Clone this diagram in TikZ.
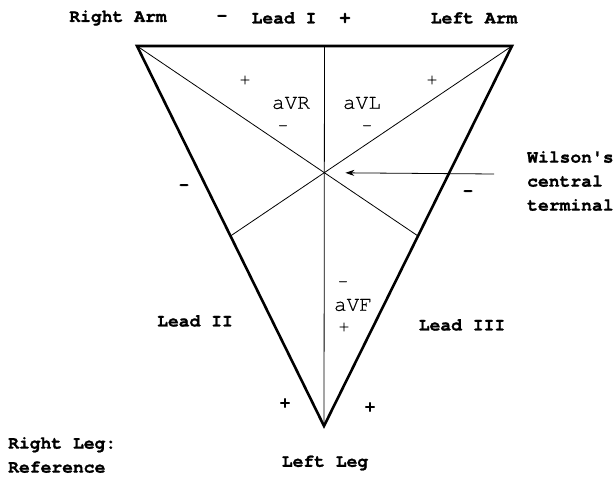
\documentclass[tikz,border=0pt]{standalone}
\usepackage{fontspec}
\newfontfamily\cur[Extension=.otf,UprightFont=*-regular,BoldFont=*-bold,BoldFeatures={FakeBold=1.2}]{texgyrecursor}
\newfontfamily\curthin[Extension=.otf,UprightFont=*-regular,FakeBold=0.6]{texgyrecursor}
\usetikzlibrary{arrows.meta,calc}
\tikzset{
  side/.style={line width=2.6pt, line join=miter, line cap=round},
  inner/.style={line width=0.8pt},
  lbl/.style={font=\cur\bfseries\fontsize{18}{24}\selectfont, inner sep=0pt, text=black},
  sm/.style={font=\curthin\fontsize{21}{22}\selectfont, inner sep=0pt},
  sgn/.style={font=\curthin\fontsize{17}{18}\selectfont, inner sep=0pt},
  bsgn/.style={font=\cur\bfseries\fontsize{17}{18}\selectfont, inner sep=0pt},
}
\begin{document}
\begin{tikzpicture}[x=1pt,y=-1pt]
\useasboundingbox (0,0) rectangle (614,478);
% vertices
\coordinate (RA) at (137,46);
\coordinate (LA) at (512,46);
\coordinate (LL) at (324,426);
\coordinate (C) at ($1/3*(RA)+1/3*(LA)+1/3*(LL)$);
\coordinate (T) at ($(RA)!0.5!(LA)$);
\coordinate (ML) at ($(RA)!0.5!(LL)$);
\coordinate (MR) at ($(LA)!0.5!(LL)$);
\coordinate (wstart) at (494,174);
% inner lines
\draw[inner] (T) -- (LL);
\draw[inner] (RA) -- (MR);
\draw[inner] (LA) -- (ML);
% triangle
\draw[side] (RA) -- (LA) -- (LL) -- cycle;
% arrow
\draw[inner, -{Stealth[length=9pt,width=6pt]}, shorten >=21pt] (wstart) -- (C);
% top labels
\node[lbl] (ra) at (118,18) {Right Arm};
\node[lbl] (m1) at (222,18) {-};
\node[lbl] (l1) at (284,18) {Lead I};
\node[lbl] (p1) at (345,18) {+};
\node[lbl] (la) at (474,18) {Left Arm};
% aVR / aVL
\node[sgn] (pr) at (245,80) {+};
\node[sm] (avr) at (291,103) {aVR};
\node[sgn] (mr) at (283,128) {-};
\node[sgn] (pl) at (432,80) {+};
\node[sm] (avl) at (362,103) {aVL};
\node[sgn] (ml) at (367,128) {-};
% aVF
\node[sgn] (mf) at (343,284) {-};
\node[sm] (avf) at (353,305) {aVF};
\node[sgn] (pf) at (344,327) {+};
% side signs
\node[bsgn] (m2) at (184,187) {-};
\node[bsgn] (m3) at (468,193) {-};
\node[bsgn] (p2) at (285,403) {+};
\node[bsgn] (p3) at (370,407) {+};
% lead labels
\node[lbl] (l2) at (195,321) {Lead II};
\node[lbl] (l3) at (462,325) {Lead III};
% Wilson
\node[lbl, anchor=west, align=left] (w) at (527,181) {Wilson's\\central\\terminal};
% legs
\node[lbl, anchor=west, align=left] (rl) at (8,455) {Right Leg:\\Reference};
\node[lbl] (ll) at (325,463) {Left Leg};
\end{tikzpicture}
\end{document}
